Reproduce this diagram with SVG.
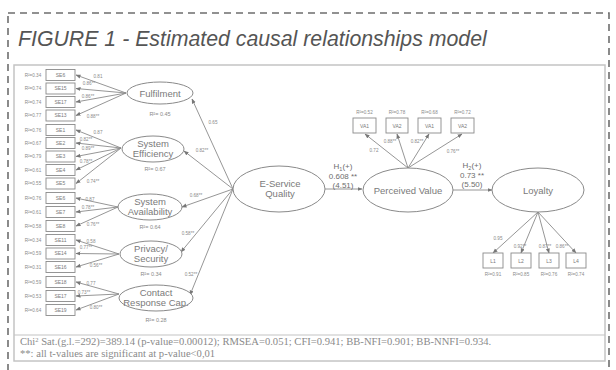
<svg xmlns="http://www.w3.org/2000/svg" width="616" height="370" viewBox="0 0 616 370">
<style>
.frame{fill:none;stroke:#6e6e6e;stroke-width:1.6;stroke-dasharray:7,5}
.inner{fill:#fff;stroke:#c4c4c4;stroke-width:1.5}
.title{font-family:"Liberation Sans",Arial,sans-serif;font-style:italic;font-size:21.3px;fill:#555}
.lat{fill:#fff;stroke:#8a8a8a;stroke-width:1}
.box{fill:#fff;stroke:#8a8a8a;stroke-width:0.9}
.lt{font-family:"Liberation Sans",Arial,sans-serif;font-size:9.5px;fill:#7a7a7a;text-anchor:middle}
.bt{font-family:"Liberation Sans",Arial,sans-serif;font-size:5px;fill:#7a7a7a;text-anchor:middle}
.sm{font-family:"Liberation Sans",Arial,sans-serif;font-size:4.6px;fill:#8a8a8a;text-anchor:middle}
.r2{font-family:"Liberation Sans",Arial,sans-serif;font-size:5.5px;fill:#8a8a8a;text-anchor:middle}
.hl{font-family:"Liberation Sans",Arial,sans-serif;font-size:8px;fill:#6e6e6e;text-anchor:middle}
.arr{stroke:#8a8a8a;stroke-width:0.9;fill:none;marker-end:url(#ah)}
.foot{font-family:"Liberation Serif","Times New Roman",serif;font-size:10.6px;fill:#8a8a8a}
</style>
<defs>
<marker id="ah" viewBox="0 0 10 10" refX="9" refY="5" markerWidth="5" markerHeight="5" orient="auto" markerUnits="userSpaceOnUse">
<path d="M0,1 L10,5 L0,9 z" fill="#777"/>
</marker>
</defs>
<rect class="frame" x="8" y="13" width="601" height="400"/>
<text class="title" x="18" y="46">FIGURE 1 - Estimated causal relationships model</text>
<rect class="inner" x="14" y="65" width="591" height="296"/>
<line x1="14" y1="335" x2="605" y2="335" stroke="#c4c4c4" stroke-width="1.2"/>
<text class="foot" x="20" y="345">Chi<tspan font-size="6.5" dy="-3.5">2</tspan><tspan dy="3.5"> Sat.(g.l.=292)=389.14 (p-value=0.00012); RMSEA=0.051; CFI=0.941; BB-NFI=0.901; BB-NNFI=0.934.</tspan></text>
<text class="foot" x="20" y="357">**: all t-values are significant at p-value&lt;0,01</text>

<g id="connectors">
<line class="arr" x1="126" y1="93" x2="76" y2="75"/>
<line class="arr" x1="126" y1="93" x2="76" y2="88.5"/>
<line class="arr" x1="126" y1="93" x2="76" y2="102"/>
<line class="arr" x1="126" y1="93" x2="76" y2="115.5"/>
<line class="arr" x1="121" y1="148" x2="76" y2="130"/>
<line class="arr" x1="121" y1="148" x2="76" y2="143"/>
<line class="arr" x1="121" y1="148" x2="76" y2="156.5"/>
<line class="arr" x1="121" y1="148" x2="76" y2="170"/>
<line class="arr" x1="121" y1="148" x2="76" y2="183.5"/>
<line class="arr" x1="118" y1="207" x2="76" y2="198"/>
<line class="arr" x1="118" y1="207" x2="76" y2="212"/>
<line class="arr" x1="118" y1="207" x2="76" y2="226"/>
<line class="arr" x1="119" y1="254" x2="76" y2="240"/>
<line class="arr" x1="119" y1="254" x2="76" y2="253.5"/>
<line class="arr" x1="119" y1="254" x2="76" y2="267"/>
<line class="arr" x1="119" y1="294" x2="76" y2="282"/>
<line class="arr" x1="119" y1="294" x2="76" y2="296"/>
<line class="arr" x1="119" y1="294" x2="76" y2="310"/>
<line class="arr" x1="233" y1="189" x2="192" y2="99"/>
<line class="arr" x1="233" y1="189" x2="184" y2="151"/>
<line class="arr" x1="233" y1="189" x2="182" y2="207"/>
<line class="arr" x1="233" y1="189" x2="181" y2="252"/>
<line class="arr" x1="233" y1="189" x2="190" y2="295"/>
<line class="arr" x1="325" y1="189" x2="362" y2="189"/>
<line class="arr" x1="453" y1="190" x2="492" y2="190"/>
<line class="arr" x1="408" y1="168" x2="365" y2="134"/>
<line class="arr" x1="408" y1="168" x2="397" y2="134"/>
<line class="arr" x1="408" y1="168" x2="429" y2="134"/>
<line class="arr" x1="408" y1="168" x2="462" y2="134"/>
<line class="arr" x1="538" y1="212" x2="493" y2="253"/>
<line class="arr" x1="538" y1="212" x2="521" y2="253"/>
<line class="arr" x1="538" y1="212" x2="549" y2="253"/>
<line class="arr" x1="538" y1="212" x2="576" y2="253"/>
</g>

<g id="loadings">
<text class="sm" x="98" y="78">0.81</text>
<text class="sm" x="89" y="85">0.86**</text>
<text class="sm" x="88" y="98">0.86**</text>
<text class="sm" x="93" y="118">0.88**</text>
<text class="sm" x="98" y="134">0.87</text>
<text class="sm" x="86" y="141">0.82**</text>
<text class="sm" x="88" y="150">0.89**</text>
<text class="sm" x="86" y="163">0.78**</text>
<text class="sm" x="93" y="183">0.74**</text>
<text class="sm" x="90" y="201">0.87</text>
<text class="sm" x="88" y="209">0.78**</text>
<text class="sm" x="93" y="226">0.76**</text>
<text class="sm" x="91" y="243">0.58</text>
<text class="sm" x="86" y="249">0.77**</text>
<text class="sm" x="96" y="267">0.56**</text>
<text class="sm" x="91" y="285">0.77</text>
<text class="sm" x="84" y="294">0.73**</text>
<text class="sm" x="96" y="309">0.80**</text>
<text class="sm" x="213" y="124">0.65</text>
<text class="sm" x="202" y="152">0.82**</text>
<text class="sm" x="196" y="197">0.68**</text>
<text class="sm" x="188" y="235">0.58**</text>
<text class="sm" x="191" y="276">0.52**</text>
<text class="sm" x="374" y="152">0.72</text>
<text class="sm" x="390" y="143">0.88**</text>
<text class="sm" x="417" y="143">0.82**</text>
<text class="sm" x="453" y="153">0.76**</text>
<text class="sm" x="498" y="240">0.95</text>
<text class="sm" x="520" y="248">0.92**</text>
<text class="sm" x="545" y="248">0.87**</text>
<text class="sm" x="562" y="248">0.86**</text>
<text class="hl" x="343" y="169">H<tspan font-size="5.5" dy="2">1</tspan><tspan dy="-2">(+)</tspan></text>
<text class="hl" x="343" y="179">0.608 **</text>
<text class="hl" x="343" y="188">(4.51)</text>
<text class="hl" x="472" y="168">H<tspan font-size="5.5" dy="2">2</tspan><tspan dy="-2">(+)</tspan></text>
<text class="hl" x="472" y="178">0.73 **</text>
<text class="hl" x="472" y="187">(5.50)</text>
</g>

<g id="ind-fulfilment">
<rect class="box" x="46" y="69.5" width="29" height="11"/><text class="bt" x="60.5" y="76.8">SE6</text><text class="sm" x="33" y="76.8">R²=0.34</text>
<rect class="box" x="46" y="83" width="29" height="11"/><text class="bt" x="60.5" y="90.3">SE15</text><text class="sm" x="33" y="90.3">R²=0.74</text>
<rect class="box" x="46" y="96.5" width="29" height="11"/><text class="bt" x="60.5" y="103.8">SE17</text><text class="sm" x="33" y="103.8">R²=0.74</text>
<rect class="box" x="46" y="110" width="29" height="11"/><text class="bt" x="60.5" y="117.3">SE13</text><text class="sm" x="33" y="117.3">R²=0.77</text>
</g>
<g id="ind-efficiency">
<rect class="box" x="46" y="124.5" width="29" height="11"/><text class="bt" x="60.5" y="131.8">SE1</text><text class="sm" x="33" y="131.8">R²=0.76</text>
<rect class="box" x="46" y="137.5" width="29" height="11"/><text class="bt" x="60.5" y="144.8">SE2</text><text class="sm" x="33" y="144.8">R²=0.67</text>
<rect class="box" x="46" y="151" width="29" height="11"/><text class="bt" x="60.5" y="158.3">SE3</text><text class="sm" x="33" y="158.3">R²=0.79</text>
<rect class="box" x="46" y="164.5" width="29" height="11"/><text class="bt" x="60.5" y="171.8">SE4</text><text class="sm" x="33" y="171.8">R²=0.61</text>
<rect class="box" x="46" y="178" width="29" height="11"/><text class="bt" x="60.5" y="185.3">SE5</text><text class="sm" x="33" y="185.3">R²=0.55</text>
</g>
<g id="ind-availability">
<rect class="box" x="46" y="192.5" width="29" height="11"/><text class="bt" x="60.5" y="199.8">SE6</text><text class="sm" x="33" y="199.8">R²=0.76</text>
<rect class="box" x="46" y="206.5" width="29" height="11"/><text class="bt" x="60.5" y="213.8">SE7</text><text class="sm" x="33" y="213.8">R²=0.61</text>
<rect class="box" x="46" y="220.5" width="29" height="11"/><text class="bt" x="60.5" y="227.8">SE8</text><text class="sm" x="33" y="227.8">R²=0.58</text>
</g>
<g id="ind-privacy">
<rect class="box" x="46" y="234.5" width="29" height="11"/><text class="bt" x="60.5" y="241.8">SE11</text><text class="sm" x="33" y="241.8">R²=0.34</text>
<rect class="box" x="46" y="248" width="29" height="11"/><text class="bt" x="60.5" y="255.3">SE14</text><text class="sm" x="33" y="255.3">R²=0.59</text>
<rect class="box" x="46" y="261.5" width="29" height="11"/><text class="bt" x="60.5" y="268.8">SE16</text><text class="sm" x="33" y="268.8">R²=0.31</text>
</g>
<g id="ind-contact">
<rect class="box" x="46" y="276.5" width="29" height="11"/><text class="bt" x="60.5" y="283.8">SE18</text><text class="sm" x="33" y="283.8">R²=0.59</text>
<rect class="box" x="46" y="290.5" width="29" height="11"/><text class="bt" x="60.5" y="297.8">SE17</text><text class="sm" x="33" y="297.8">R²=0.53</text>
<rect class="box" x="46" y="304.5" width="29" height="11"/><text class="bt" x="60.5" y="311.8">SE19</text><text class="sm" x="33" y="311.8">R²=0.64</text>
</g>

<g id="fulfilment">
<ellipse class="lat" cx="160" cy="93" rx="33" ry="11"/>
<text class="lt" x="160" y="96.5">Fulfilment</text>
<text class="r2" x="160" y="116">R²= 0.45</text>
</g>
<g id="efficiency">
<ellipse class="lat" cx="153" cy="149" rx="31" ry="13"/>
<text class="lt" x="153" y="147">System</text>
<text class="lt" x="153" y="157">Efficiency</text>
<text class="r2" x="155" y="171">R²= 0.67</text>
</g>
<g id="availability">
<ellipse class="lat" cx="150" cy="207" rx="32" ry="13"/>
<text class="lt" x="150" y="205">System</text>
<text class="lt" x="150" y="215">Availability</text>
<text class="r2" x="150" y="229">R²= 0.64</text>
</g>
<g id="privacy">
<ellipse class="lat" cx="151" cy="254" rx="31" ry="13"/>
<text class="lt" x="151" y="252">Privacy/</text>
<text class="lt" x="151" y="262">Security</text>
<text class="r2" x="151" y="276">R²= 0.34</text>
</g>
<g id="contact">
<ellipse class="lat" cx="156" cy="298" rx="37" ry="13"/>
<text class="lt" x="156" y="296">Contact</text>
<text class="lt" x="156" y="306">Response Cap.</text>
<text class="r2" x="156" y="322">R²= 0.28</text>
</g>
<g id="esq">
<ellipse class="lat" cx="279" cy="189" rx="46" ry="23"/>
<text class="lt" x="280" y="187">E-Service</text>
<text class="lt" x="280" y="197">Quality</text>
</g>
<g id="pv">
<ellipse class="lat" cx="408" cy="190" rx="45" ry="22"/>
<text class="lt" x="408" y="194">Perceived Value</text>
</g>
<g id="loyalty">
<ellipse class="lat" cx="538" cy="190" rx="46" ry="22"/>
<text class="lt" x="538" y="194">Loyalty</text>
</g>
<g id="ind-pv">
<rect class="box" x="353" y="118" width="23" height="15"/><text class="bt" x="364.5" y="127.5">VA1</text><text class="sm" x="364.5" y="114">R²=0.52</text>
<rect class="box" x="386" y="118" width="22" height="15"/><text class="bt" x="397" y="127.5">VA2</text><text class="sm" x="397" y="114">R²=0.78</text>
<rect class="box" x="418" y="118" width="23" height="15"/><text class="bt" x="429.5" y="127.5">VA1</text><text class="sm" x="429.5" y="114">R²=0.68</text>
<rect class="box" x="451" y="118" width="23" height="15"/><text class="bt" x="462.5" y="127.5">VA2</text><text class="sm" x="462.5" y="114">R²=0.72</text>
</g>
<g id="ind-loyalty">
<rect class="box" x="483" y="253" width="20" height="15"/><text class="bt" x="493" y="262.5">L1</text><text class="sm" x="493" y="276">R²=0.91</text>
<rect class="box" x="511" y="253" width="20" height="15"/><text class="bt" x="521" y="262.5">L2</text><text class="sm" x="521" y="276">R²=0.85</text>
<rect class="box" x="539" y="253" width="20" height="15"/><text class="bt" x="549" y="262.5">L3</text><text class="sm" x="549" y="276">R²=0.76</text>
<rect class="box" x="566" y="253" width="20" height="15"/><text class="bt" x="576" y="262.5">L4</text><text class="sm" x="576" y="276">R²=0.74</text>
</g>
</svg>
